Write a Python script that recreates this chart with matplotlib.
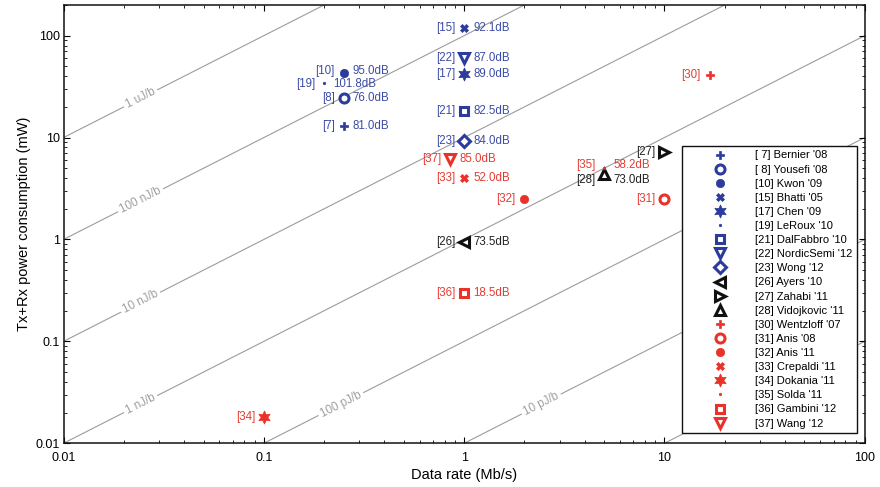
import numpy as np
import matplotlib
matplotlib.use("Agg")
import matplotlib.pyplot as plt

plt.rcParams['font.family'] = ['Liberation Sans', 'DejaVu Sans']

# ---------------- data ----------------
refs = ["7", "8", "10", "15", "17", "19", "21", "22", "23",
        "26", "27", "28",
        "30", "31", "32", "33", "34", "35", "36", "37"]
authors = ["Bernier '08", "Yousefi '08", "Kwon '09", "Bhatti '05", "Chen '09",
           "LeRoux '10", "DalFabbro '10", "NordicSemi '12", "Wong '12",
           "Ayers '10", "Zahabi '11", "Vidojkovic '11",
           "Wentzloff '07", "Anis '08", "Anis '11", "Crepaldi '11", "Dokania '11",
           "Solda '11", "Gambini '12", "Wang '12"]
data_rate = [0.25, 0.25, 0.25, 1.0, 1.0, 0.2, 1.0, 1.0, 1.0,
             1.0, 10.0, 5.0,
             16.8, 10.0, 2.0, 1.0, 0.1, 5.0, 1.0, 0.85]
power_mw = [13.1, 24.6, 43.0, 120.0, 42.0, 34.6, 18.4, 60.0, 9.2,
            0.94, 7.3, 4.35,
            41.5, 2.52, 2.5, 4.0, 0.018, 5.05, 0.30, 6.2]
link_budget = ["81.0", "76.0", "95.0", "92.1", "89.0", "101.8", "82.5", "87.0", "84.0",
               "73.5", "", "73.0",
               "", "", "", "52.0", "", "58.2", "18.5", "85.0"]
group = ["blue"] * 9 + ["black"] * 3 + ["red"] * 8

energy_nj = [1000, 100, 10, 1, 0.1, 0.01, 0.001]
energy_labels = ["1 uJ/b", "100 nJ/b", "10 nJ/b", "1 nJ/b", "100 pJ/b", "10 pJ/b", "1 pJ/b"]

x_ticks = [0.01, 0.1, 1, 10, 100]
x_ticklabels = ["0.01", "0.1", "1", "10", "100"]
y_ticks = [0.01, 0.1, 1, 10, 100]
y_ticklabels = ["0.01", "0.1", "1", "10", "100"]

# ---------------- styles ----------------
marker_color = {"blue": "#2c3c9c", "black": "#111111", "red": "#e8322a"}
text_color = {"blue": "#3c4ca6", "black": "#222222", "red": "#e53c32"}
hexagram = (6, 1, 0)
styles = [
    dict(marker="P", ms=6, filled=True),
    dict(marker="o", ms=6.5, filled=False),
    dict(marker="o", ms=6, filled=True),
    dict(marker="X", ms=5.5, filled=True),
    dict(marker=hexagram, ms=9.5, filled=True),
    dict(marker="o", ms=1.8, filled=True),
    dict(marker="s", ms=5.8, filled=False),
    dict(marker="v", ms=7.5, filled=False),
    dict(marker="D", ms=6, filled=False),
    dict(marker="<", ms=7.5, filled=False),
    dict(marker=">", ms=7.5, filled=False),
    dict(marker="^", ms=7.5, filled=False),
    dict(marker="P", ms=6, filled=True),
    dict(marker="o", ms=6.5, filled=False),
    dict(marker="o", ms=6, filled=True),
    dict(marker="X", ms=5.5, filled=True),
    dict(marker=hexagram, ms=9.5, filled=True),
    dict(marker="o", ms=1.8, filled=True),
    dict(marker="s", ms=5.8, filled=False),
    dict(marker="v", ms=7.5, filled=False),
]
label_dy = {"28": -4, "35": 2, "10": 1.5, "19": -0.8}  # points

# ---------------- figure ----------------
W, H = 880, 487
fig = plt.figure(figsize=(W / 100, H / 100), dpi=100)
left, right, top, bottom = 63.5, 864.7, 5, 443.3
ax = fig.add_axes([left / W, 1 - bottom / H, (right - left) / W, (bottom - top) / H])
ax.set_xscale("log")
ax.set_yscale("log")
xlim = (0.01, 100)
ylim = (0.01, 200)
ax.set_xlim(*xlim)
ax.set_ylim(*ylim)

# energy-per-bit lines
p0 = ax.transData.transform((1, 1))
p1 = ax.transData.transform((10, 10))
angle = np.degrees(np.arctan2(p1[1] - p0[1], p1[0] - p0[0]))
xx = np.logspace(-2, 2, 200)
for e, lab in zip(energy_nj, energy_labels):
    ax.plot(xx, e * xx, color="#9c9c9c", lw=0.8, zorder=1)
    r0 = max(xlim[0], ylim[0] / e)
    rl = r0 * 10 ** 0.385
    ax.text(rl, e * rl, lab, rotation=angle, rotation_mode="anchor",
            ha="center", va="center", fontsize=8.4, color="#a0a0a0", zorder=2,
            bbox=dict(facecolor="white", edgecolor="none", pad=2.0))

# data points
for i in range(len(refs)):
    st = styles[i]
    c = marker_color[group[i]]
    tc = text_color[group[i]]
    if st["filled"]:
        kw = dict(markerfacecolor=c, markeredgecolor=c, markeredgewidth=0.5)
    else:
        kw = dict(markerfacecolor="white", markeredgecolor=c, markeredgewidth=2.2)
    ref = refs[i]
    lbl = "[%2s] %s" % (ref, authors[i])
    ax.plot([data_rate[i]], [power_mw[i]], linestyle="none", marker=st["marker"],
            ms=st["ms"], label=lbl, zorder=5, **kw)
    dy = label_dy.get(ref, 0)
    ax.annotate("[%s]" % ref, (data_rate[i], power_mw[i]), xytext=(-6.3, dy),
                textcoords="offset points", ha="right", va="center",
                fontsize=8.3, color=tc, zorder=6)
    if link_budget[i]:
        ax.annotate(link_budget[i] + "dB", (data_rate[i], power_mw[i]), xytext=(6.8, dy),
                    textcoords="offset points", ha="left", va="center",
                    fontsize=8.3, color=tc, zorder=6)

ax.set_xticks(x_ticks, x_ticklabels)
ax.set_yticks(y_ticks, y_ticklabels)
ax.tick_params(which="both", direction="in", top=True, right=True)
ax.tick_params(which="major", length=4.5, width=0.8, labelsize=9)
ax.tick_params(axis="x", which="major", pad=6.5)
ax.tick_params(axis="y", which="major", pad=2.5)
ax.tick_params(which="minor", length=2.5, width=0.6)
for s in ax.spines.values():
    s.set_linewidth(1.1)
    s.set_color("#111111")

ax.set_xlabel("Data rate (Mb/s)", fontsize=10.5, labelpad=3)
ax.set_ylabel("Tx+Rx power consumption (mW)", fontsize=10.5, labelpad=3)

leg = ax.legend(loc="upper left", bbox_to_anchor=((682 - left) / (right - left), (bottom - 146) / (bottom - top)),
                fontsize=8, frameon=True, fancybox=False, framealpha=1,
                edgecolor="#111111", handlelength=6.0, handletextpad=0.2,
                labelspacing=0.37, borderpad=0.4, borderaxespad=0, numpoints=1)
leg.get_frame().set_linewidth(1.0)
leg.set_zorder(10)

fig.savefig("out.png", dpi=100)
